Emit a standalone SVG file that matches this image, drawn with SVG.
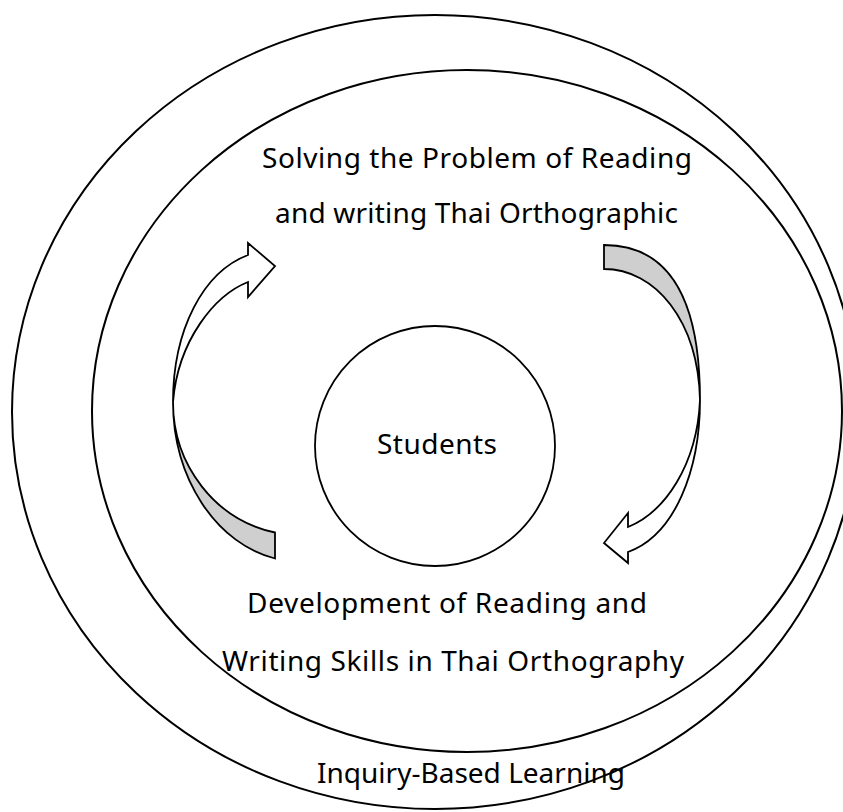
<svg xmlns="http://www.w3.org/2000/svg" width="843" height="812" viewBox="0 0 843 812">
  <style>
    .ring { fill: none; stroke: #000; stroke-width: 2; }
    .core { fill: #fff; stroke: #000; stroke-width: 1.8; }
    .label { font-family: "Noto Sans", "Open Sans", "DejaVu Sans", sans-serif; font-size: 28px; fill: #000; }
    .band-front { fill: #fff; stroke: #000; stroke-width: 1.8; stroke-linejoin: miter; }
    .band-back { fill: #cfcfcf; stroke: #000; stroke-width: 1.8; stroke-linejoin: miter; }
  </style>
  <rect width="843" height="812" fill="#fff"/>

  <!-- outer ring: inquiry-based learning -->
  <g id="inquiry-based-learning">
    <ellipse class="ring" cx="435" cy="412" rx="423" ry="397"/>
    <text class="label" x="317" y="783" textLength="308">Inquiry-Based Learning</text>
  </g>

  <!-- inner ring -->
  <g id="learning-cycle">
    <ellipse class="ring" cx="467" cy="411" rx="375" ry="341"/>
  </g>

  <g id="problem-solving">
    <text class="label" x="262" y="168" textLength="430">Solving the Problem of Reading</text>
    <text class="label" x="275" y="223" textLength="403">and writing Thai Orthographic</text>
  </g>

  <g id="skill-development">
    <text class="label" x="247" y="613" textLength="400">Development of Reading and</text>
    <text class="label" x="222" y="671" textLength="462">Writing Skills in Thai Orthography</text>
  </g>

  <g id="students">
    <circle class="core" cx="435" cy="446" r="120"/>
    <text class="label" x="377" y="454" textLength="120">Students</text>
  </g>

  <!-- curved arrows of the cycle -->
  <g id="connectors">
    <!-- left: from development up to problem solving -->
    <g id="arrow-up">
      <path class="band-back" d="M173,402 A127,160 0 0 0 275,558.5 L275,532.5 A127,133 0 0 1 173,402 Z"/>
      <path class="band-front" d="M173,402 C173,330 203,272 248,255 L248,243 L275,266 L248,297 L248,282 C215,295 178,340 173,402 Z"/>
    </g>
    <!-- right: from problem solving down to development -->
    <g id="arrow-down">
      <path class="band-back" d="M604,245 C670,245 700,300 700,400 C698,320 655,269 604,269 Z"/>
      <path class="band-front" d="M700,400 C700,470 675,535 628,552 L628,563 L604,543 L628,513 L628,527 C665,512 697,465 700,400 Z"/>
    </g>
  </g>
</svg>
